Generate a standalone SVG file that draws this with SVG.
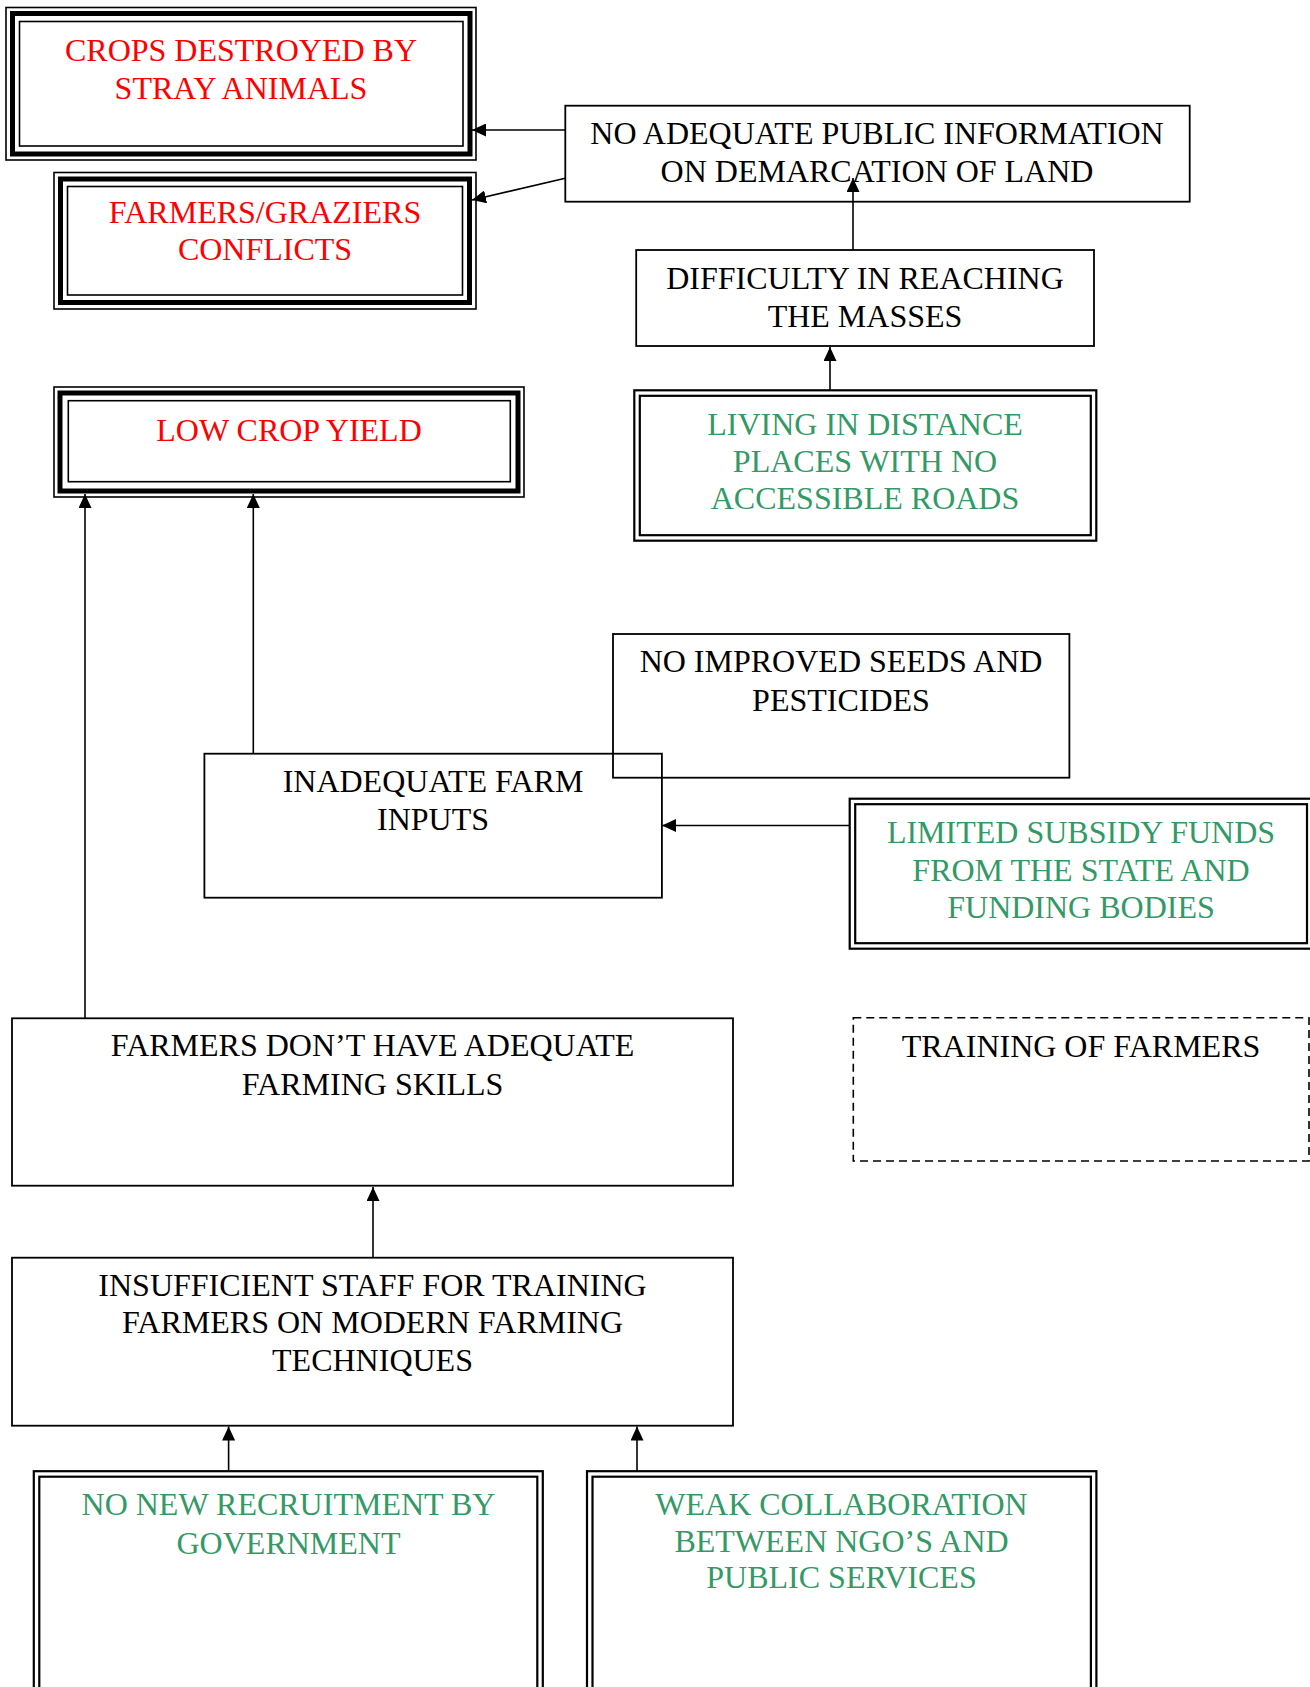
<svg xmlns="http://www.w3.org/2000/svg" width="1310" height="1687" viewBox="0 0 1310 1687">
<defs>
<marker id="ah" markerUnits="userSpaceOnUse" markerWidth="14" markerHeight="13" refX="14" refY="6.5" orient="auto">
<path d="M0,0 L14,6.5 L0,13 z" fill="#000"/>
</marker>
</defs>
<style>
text{font-family:"Liberation Serif","Times New Roman",serif;font-size:32px;text-anchor:middle}
.red{fill:#ff0000}
.grn{fill:#339966}
.blk{fill:#000}
.box{fill:#fff;stroke:#000;stroke-width:1.8}
.nb{fill:none;stroke:#000}
.thin{fill:none;stroke:#000;stroke-width:1.6}
.thick{fill:none;stroke:#000;stroke-width:5}
.dbl{fill:none;stroke:#000;stroke-width:2.2}
.dash{fill:#fff;stroke:#000;stroke-width:1.6;stroke-dasharray:8 5}
.conn{stroke:#000;stroke-width:1.6;fill:none}
</style>
<rect width="1310" height="1687" fill="#fff"/>

<g id="crops">
<rect x="6" y="7.5" width="470" height="152.5" class="thin" fill="#fff"/>
<rect x="12.5" y="13.5" width="457.5" height="140.5" class="thick"/>
<rect x="19.5" y="21.5" width="443.5" height="124.5" class="thin"/>
<text x="241" y="61" class="red">CROPS DESTROYED BY</text>
<text x="241" y="99" class="red">STRAY ANIMALS</text>
</g>

<g id="conflicts">
<rect x="54" y="172.5" width="422" height="136.5" class="thin" fill="#fff"/>
<rect x="60.5" y="179" width="409" height="123.5" class="thick"/>
<rect x="67.5" y="186.5" width="395" height="108.5" class="thin"/>
<text x="265" y="223" class="red">FARMERS/GRAZIERS</text>
<text x="265" y="260" class="red">CONFLICTS</text>
</g>

<g id="noinfo">
<rect x="565.3" y="105.7" width="624.4" height="96" class="box"/>
<text x="877" y="144" class="blk">NO ADEQUATE PUBLIC INFORMATION</text>
<text x="877" y="182" class="blk">ON DEMARCATION OF LAND</text>
</g>

<g id="difficulty">
<rect x="636.2" y="250" width="457.8" height="96" class="box"/>
<text x="865" y="289" class="blk">DIFFICULTY IN REACHING</text>
<text x="865" y="326.7" class="blk">THE MASSES</text>
</g>

<g id="living">
<rect x="634.3" y="390.3" width="462" height="150.4" class="dbl" fill="#fff"/>
<rect x="639.8" y="395.8" width="451" height="139.4" class="dbl"/>
<text x="865" y="435" class="grn">LIVING IN DISTANCE</text>
<text x="865" y="471.7" class="grn">PLACES WITH NO</text>
<text x="865" y="509.3" class="grn">ACCESSIBLE ROADS</text>
</g>

<g id="lowyield">
<rect x="54" y="387" width="470" height="110" class="thin" fill="#fff"/>
<rect x="60" y="393" width="458" height="98" class="thick"/>
<rect x="68.3" y="400.7" width="442" height="81" class="thin"/>
<text x="289" y="441" class="red">LOW CROP YIELD</text>
</g>

<g id="seeds">
<rect x="613" y="634" width="456.4" height="143.7" class="box"/>
<text x="841" y="672.3" class="blk">NO IMPROVED SEEDS AND</text>
<text x="841" y="710.7" class="blk">PESTICIDES</text>
</g>

<g id="inputs">
<rect x="204.4" y="753.7" width="457.5" height="144" class="nb" stroke-width="1.8"/>
<text x="433" y="791.7" class="blk">INADEQUATE FARM</text>
<text x="433" y="830" class="blk">INPUTS</text>
</g>

<g id="subsidy">
<rect x="849.7" y="798.7" width="462.8" height="150" class="dbl" fill="#fff"/>
<rect x="855.2" y="804.2" width="451.8" height="139" class="dbl"/>
<text x="1081" y="843.3" class="grn">LIMITED SUBSIDY FUNDS</text>
<text x="1081" y="880.7" class="grn">FROM THE STATE AND</text>
<text x="1081" y="917.7" class="grn">FUNDING BODIES</text>
</g>

<g id="training">
<rect x="853.3" y="1017.7" width="455.7" height="143.3" class="dash"/>
<text x="1081" y="1056.7" class="blk">TRAINING OF FARMERS</text>
</g>

<g id="skills">
<rect x="12" y="1018.3" width="721" height="167.4" class="box"/>
<text x="372.5" y="1056" class="blk">FARMERS DON’T HAVE ADEQUATE</text>
<text x="372.5" y="1095" class="blk">FARMING SKILLS</text>
</g>

<g id="staff">
<rect x="12" y="1257.7" width="721" height="168" class="box"/>
<text x="372.5" y="1296" class="blk">INSUFFICIENT STAFF FOR TRAINING</text>
<text x="372.5" y="1333.3" class="blk">FARMERS ON MODERN FARMING</text>
<text x="372.5" y="1371" class="blk">TECHNIQUES</text>
</g>

<g id="recruit">
<rect x="33.8" y="1471.2" width="509" height="240" class="dbl" fill="#fff"/>
<rect x="39.3" y="1476.7" width="498" height="240" class="dbl"/>
<text x="288.5" y="1515" class="grn">NO NEW RECRUITMENT BY</text>
<text x="288.5" y="1554" class="grn">GOVERNMENT</text>
</g>

<g id="collab">
<rect x="587" y="1471.2" width="509.4" height="240" class="dbl" fill="#fff"/>
<rect x="592.5" y="1476.7" width="498.4" height="240" class="dbl"/>
<text x="841.5" y="1515" class="grn">WEAK COLLABORATION</text>
<text x="841.5" y="1551.7" class="grn">BETWEEN NGO’S AND</text>
<text x="841.5" y="1588.3" class="grn">PUBLIC SERVICES</text>
</g>

<g id="connectors">
<line x1="565.3" y1="130" x2="472" y2="130" class="conn" marker-end="url(#ah)"/>
<line x1="565.3" y1="178.3" x2="472" y2="200" class="conn" marker-end="url(#ah)"/>
<line x1="853" y1="250" x2="853" y2="178" class="conn" marker-end="url(#ah)"/>
<line x1="830" y1="390.3" x2="830" y2="347" class="conn" marker-end="url(#ah)"/>
<line x1="85" y1="1018.3" x2="85" y2="494" class="conn" marker-end="url(#ah)"/>
<line x1="253.3" y1="753.7" x2="253.3" y2="494" class="conn" marker-end="url(#ah)"/>
<line x1="849.7" y1="825.5" x2="662" y2="825.5" class="conn" marker-end="url(#ah)"/>
<line x1="373" y1="1257.7" x2="373" y2="1187" class="conn" marker-end="url(#ah)"/>
<line x1="228.6" y1="1471.2" x2="228.6" y2="1426.5" class="conn" marker-end="url(#ah)"/>
<line x1="637" y1="1471.2" x2="637" y2="1426.5" class="conn" marker-end="url(#ah)"/>
</g>
</svg>
